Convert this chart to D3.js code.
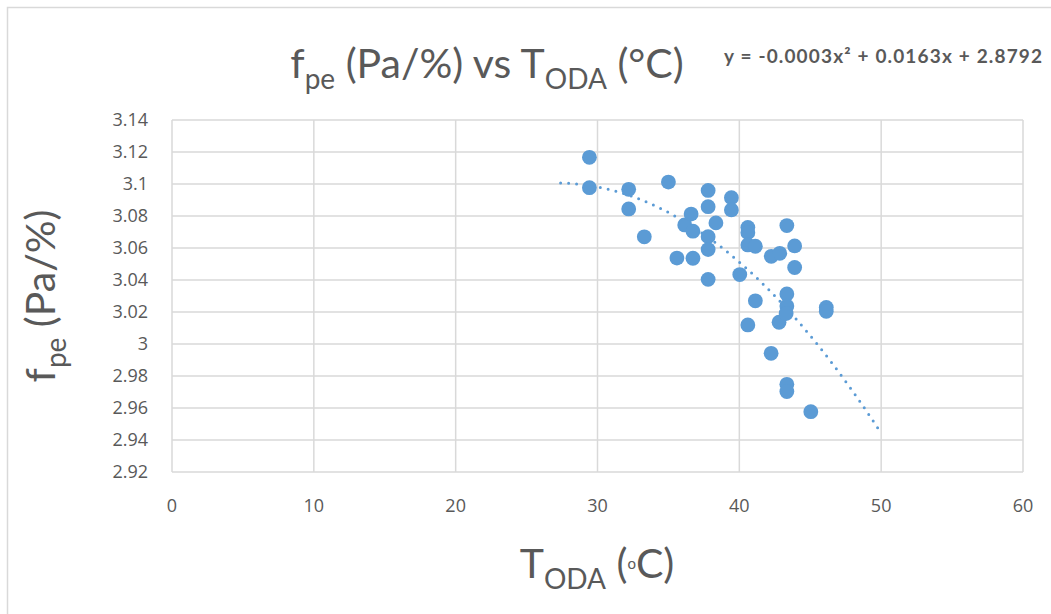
<!DOCTYPE html>
<html>
<head>
<meta charset="utf-8">
<script src="https://cdn.jsdelivr.net/npm/d3@7"></script>
<style>
  body { margin: 0; background: #fff; }
  text { fill: #595959; }
</style>
</head>
<body>
<svg id="chart" width="1051" height="614"></svg>
<script>
// readings
const tOda = [29.43, 29.43, 32.2, 32.2, 33.3, 35.0, 35.6, 36.15, 36.6, 36.73, 36.73,
    37.8, 37.8, 37.8, 37.8, 37.8, 38.35, 39.44, 39.44, 40.03, 40.6, 40.6, 40.6,
    41.13, 41.13, 40.6, 42.25, 42.85, 42.24, 42.8, 43.35, 43.35, 43.35, 43.3,
    43.35, 43.35, 43.9, 43.9, 45.04, 46.13, 46.13]
const fpe = [3.1167, 3.0977, 3.0967, 3.0844, 3.067, 3.1012, 3.0537, 3.0744, 3.0812, 3.0705, 3.0536,
    3.096, 3.0858, 3.0671, 3.059, 3.0404, 3.0757, 3.0914, 3.0838, 3.0434, 3.0729, 3.0696, 3.0619,
    3.0611, 3.027, 3.0119, 3.0548, 3.0567, 2.9942, 3.0136, 3.074, 3.0313, 3.0237, 3.019,
    2.9748, 2.9703, 3.0613, 3.0478, 2.9577, 3.0229, 3.0204]

const xTicks = [0, 10, 20, 30, 40, 50, 60]
const yTicks = [2.92, 2.94, 2.96, 2.98, 3, 3.02, 3.04, 3.06, 3.08, 3.1, 3.12, 3.14]
// trendline as printed on the chart: c0 + c1*x + c2*x^2
const trendCoef = [2.8792, 0.0163, -0.0003]
const trendRange = [27.4, 50]   // backward / forward forecast of the trendline
const equation = "y = -0.0003x² + 0.0163x + 2.8792"

const blue = "#5b9bd5"
const grid = "#d9d9d9"

const svg = d3.select("#chart")
const x = d3.scaleLinear().domain([0, 60]).range([172, 1023])
const y = d3.scaleLinear().domain([2.92, 3.14]).range([472, 120])

// chart frame
svg.append("rect")
    .attr("x", 7.5).attr("y", 7.5).attr("width", 1100).attr("height", 700)
    .attr("fill", "#fff").attr("stroke", grid).attr("stroke-width", 1.5)

// gridlines
svg.append("g").selectAll("line").data(yTicks).join("line")
    .attr("x1", x(0)).attr("x2", x(60))
    .attr("y1", d => y(d)).attr("y2", d => y(d))
    .attr("stroke", grid).attr("stroke-width", 1.5)
svg.append("g").selectAll("line").data(xTicks).join("line")
    .attr("x1", d => x(d)).attr("x2", d => x(d))
    .attr("y1", y(2.92)).attr("y2", y(3.14))
    .attr("stroke", grid).attr("stroke-width", 1.5)

// tick labels
const tickFont = "'Open Sans', sans-serif"
svg.append("g").selectAll("text").data(yTicks).join("text")
    .attr("x", 148).attr("y", d => y(d) + 6)
    .attr("text-anchor", "end")
    .style("font-family", tickFont).style("font-size", "18px")
    .text(d => d3.format("~g")(d))
svg.append("g").selectAll("text").data(xTicks).join("text")
    .attr("x", d => x(d)).attr("y", 512)
    .attr("text-anchor", "middle")
    .style("font-family", tickFont).style("font-size", "18px")
    .text(d => d)

const trend = d3.range(trendRange[0], trendRange[1] + 0.001, 0.1)
    .map(t => [t, trendCoef[0] + trendCoef[1] * t + trendCoef[2] * t * t])

svg.append("path")
    .datum(trend)
    .attr("d", d3.line().x(d => x(d[0])).y(d => y(d[1])))
    .attr("fill", "none").attr("stroke", blue)
    .attr("stroke-width", 3).attr("stroke-linecap", "round")
    .attr("stroke-dasharray", "0 8")

// points
svg.append("g").selectAll("circle").data(tOda).join("circle")
    .attr("cx", d => x(d))
    .attr("cy", (d, i) => y(fpe[i]))
    .attr("r", 7.4)
    .attr("fill", blue)

// titles
const titleFont = "Lato, sans-serif"
const big = "41px", sub = "28px"

const title = svg.append("text")
    .attr("x", 487).attr("y", 78)
    .attr("text-anchor", "middle")
    .style("font-family", titleFont).style("font-size", big)
title.append("tspan").text("f")
title.append("tspan").attr("dy", 11).style("font-size", sub).text("pe")
title.append("tspan").attr("dy", -11).text(" (Pa/%) vs T")
title.append("tspan").attr("dy", 11).style("font-size", sub).text("ODA")
title.append("tspan").attr("dy", -11).text(" (°C)")

svg.append("text")
    .attr("x", 724).attr("y", 63)
    .attr("textLength", 318).attr("lengthAdjust", "spacing")
    .style("font-family", titleFont).style("font-weight", 700).style("font-size", "19px")
    .text(equation)

const yTitle = svg.append("text")
    .attr("transform", "translate(55,296) rotate(-90)")
    .attr("text-anchor", "middle")
    .style("font-family", titleFont).style("font-size", big)
yTitle.append("tspan").text("f")
yTitle.append("tspan").attr("dy", 11).style("font-size", sub).text("pe")
yTitle.append("tspan").attr("dy", -11).text(" (Pa/%)")

const xTitle = svg.append("text")
    .attr("x", 597).attr("y", 578)
    .attr("text-anchor", "middle")
    .style("font-family", titleFont).style("font-size", big)
xTitle.append("tspan").text("T")
xTitle.append("tspan").attr("dy", 11).style("font-size", sub).text("ODA")
xTitle.append("tspan").attr("dy", -11).text(" (")
xTitle.append("tspan").attr("dy", -9).style("font-size", "15px").text("o")
xTitle.append("tspan").attr("dy", 9).text("C)")
</script>
</body>
</html>
